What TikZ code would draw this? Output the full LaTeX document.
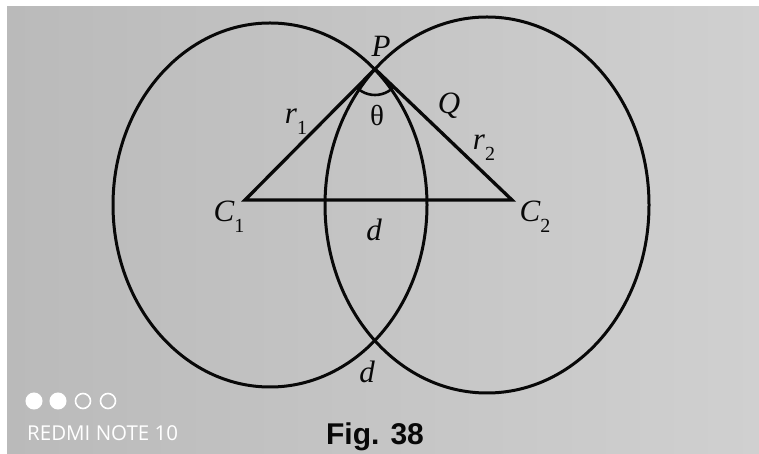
\documentclass[tikz,border=0pt]{standalone}
\usepackage{fontspec}
\setmainfont{Liberation Serif}
\newfontfamily\figfont{Liberation Sans}
\newfontfamily\phonefont{Open Sans}
\definecolor{bgL}{RGB}{186,186,186}
\definecolor{bgR}{RGB}{208,208,208}
\definecolor{ink}{RGB}{8,8,8}
\newcommand{\lblsub}[2]{\textit{#1}\raisebox{-0.35em}{\fontsize{20}{20}\selectfont\upshape #2}}
\tikzset{
  curve/.style={draw=ink, line width=3pt},
  tri/.style={draw=ink, line width=3.3pt, line join=miter},
  lbl/.style={inner sep=0pt, text=ink, font=\fontsize{31}{32}\selectfont\itshape},
  dotfull/.style={fill=white, draw=white, line width=1pt},
  dotopen/.style={draw=white, line width=1.6pt}
}
\begin{document}
\begin{tikzpicture}[x=1pt,y=1pt]
\useasboundingbox (0,0) rectangle (759,454);
\fill[white] (0,0) rectangle (759,454);
\shade[left color=bgL, right color=bgR] (7,0) rectangle (759,447);
% circles (slightly elliptical in the photo)
\coordinate (O1) at (270,249);
\coordinate (O2) at (487,249);
\draw[curve] (O1) ellipse [x radius=157pt, y radius=182pt];
\draw[curve] (O2) ellipse [x radius=162pt, y radius=188pt];
% triangle
\coordinate (C1) at (245,254);
\coordinate (C2) at (512,254);
\coordinate (P) at (375,385);
\coordinate (B) at (373,114);
\draw[tri] (C1) -- (P) -- (C2) -- cycle;
% angle arc
\draw[curve, line width=2.6pt] ([shift={(225:26pt)}]P) arc[start angle=225, end angle=316, radius=26pt];
% labels
\node[lbl] (lP) at (381,408) {P};
\node[lbl, font=\fontsize{29}{30}\selectfont\upshape] (lth) at (377,338) {θ};
\node[lbl] (lQ) at (449,348) {Q};
\node[lbl] (lr1) at (296,332) {\lblsub{r}{1}};
\node[lbl] (lr2) at (484,306) {\lblsub{r}{2}};
\node[lbl] (lC1) at (229,237) {\lblsub{C}{1}};
\node[lbl] (lC2) at (535,237) {\lblsub{C}{2}};
\node[lbl] (ld1) at (374,224) {d};
\node[lbl] (ld2) at (367,82) {d};
% caption
\node[inner sep=0pt, anchor=base, text=ink, font=\fontsize{30}{32}\selectfont\figfont\bfseries] (cap) at (375,9) {Fig. 38};
% phone watermark
\node[inner sep=0pt, anchor=base west, text=white, font=\fontsize{20.5}{22}\selectfont\phonefont] (wm) at (27,13) {REDMI NOTE 10};
\fill[dotfull] (34,53) circle[radius=8pt];
\fill[dotfull] (58,53) circle[radius=8pt];
\draw[dotopen] (83,53) circle[radius=7.5pt];
\draw[dotopen] (108,53) circle[radius=7.5pt];
\end{tikzpicture}
\end{document}
